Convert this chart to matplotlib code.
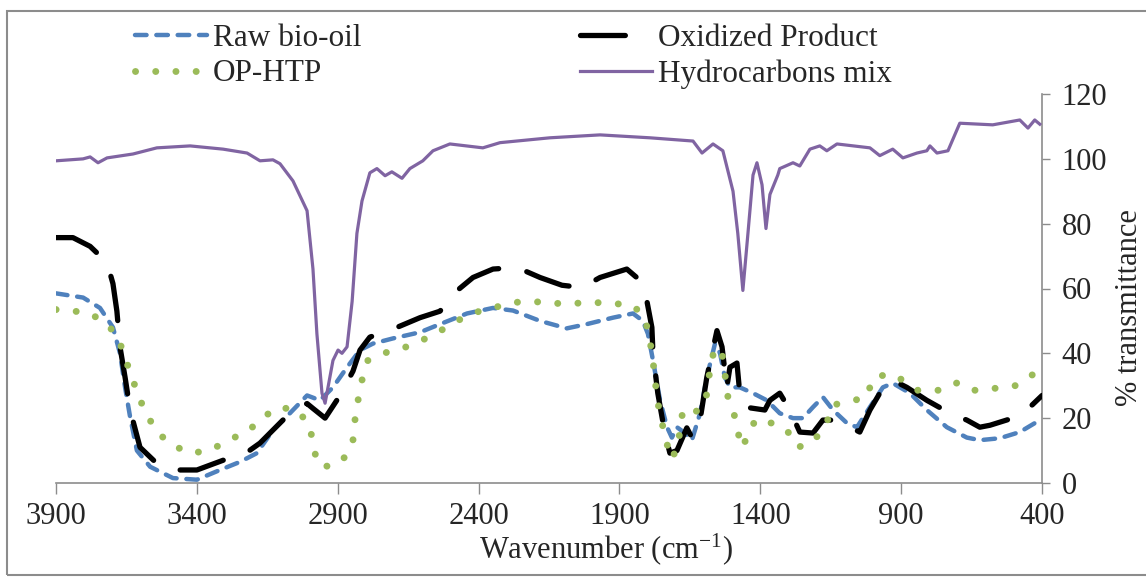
import matplotlib
matplotlib.use("Agg")
import matplotlib.pyplot as plt
from matplotlib.patches import Rectangle

plt.rcParams["font.family"] = ["Liberation Serif", "DejaVu Serif"]
plt.rcParams["mathtext.fontset"] = "custom"
plt.rcParams["mathtext.rm"] = "Liberation Serif"
plt.rcParams["mathtext.it"] = "Liberation Serif:italic"

# FTIR spectra, wavenumber (cm-1) vs % transmittance
raw_wn = [3900, 3804, 3744, 3698, 3673, 3655, 3637, 3613, 3566, 3485, 3400, 3318,
          3247, 3187, 3130, 3070, 3009, 2963, 2917, 2867, 2821, 2775, 2704, 2608,
          2537, 2441, 2349, 2278, 2182, 2087, 2016, 1923, 1852, 1817, 1799, 1781,
          1756, 1731, 1714, 1696, 1668, 1643, 1614, 1590, 1561, 1543, 1526, 1508,
          1473, 1426, 1377, 1331, 1284, 1249, 1213, 1178, 1142, 1093, 1057, 1011,
          965, 930, 869, 809, 738, 667, 621, 550, 479, 400]
raw_t = [58.5, 57.2, 54, 48, 40, 29.5, 20.3, 10, 5, 1.5, 1, 4,
         6.5, 9.2, 16.3, 21.5, 27, 25.5, 29.5, 35.7, 41, 43, 44.6, 46.5,
         49, 52.3, 54, 53.2, 50, 47.7, 49, 51, 52.3, 50, 46, 37.8,
         25.5, 17.2, 14, 17.2, 15.4, 13.2, 21.5, 32.6, 43, 40, 32.6, 29.5,
         29.5, 27.7, 25.5, 21.5, 20, 20, 23.4, 26.5, 22.5, 18.5, 17.2, 23.4,
         29.5, 30.8, 27.7, 22.5, 17.2, 14, 13.2, 13.8, 15.7, 19.8]

ox_wn = [3900, 3840, 3779, 3719, 3698, 3684, 3673, 3655, 3637, 3602, 3542, 3485,
         3400, 3307, 3236, 3176, 3105, 3059, 3009, 2988, 2945, 2892, 2846, 2821,
         2786, 2690, 2608, 2537, 2484, 2420, 2349, 2264, 2182, 2104, 2033, 1969,
         1874, 1820, 1803, 1785, 1781, 1764, 1739, 1721, 1696, 1661, 1643, 1614,
         1590, 1554, 1536, 1519, 1508, 1483, 1473, 1455, 1384, 1366, 1331, 1295,
         1284, 1260, 1213, 1178, 1142, 1082, 1047, 1011, 976, 930, 880, 809,
         727, 667, 621, 585, 504, 454, 400]
ox_t = [75.7, 75.7, 73, 68, 61.5, 53, 42, 32.6, 22.5, 11, 6, 4,
        4, 7, 8.6, 12.3, 18.5, 22.5, 24.5, 23, 20, 27, 34.5, 41,
        45, 48, 51, 53, 58.8, 63.4, 66, 66.5, 63.4, 61, 60.3, 63.4,
        66, 62, 56.3, 48, 40, 27.7, 15.4, 9.2, 10, 17, 14, 19.4,
        32.6, 47, 42, 29.5, 35.7, 37, 27.7, 23.4, 22.5, 25.5, 27.7, 22.5,
        20.3, 15.7, 15.4, 19.4, 19.4, 17.2, 15.7, 22.5, 27.7, 31.7, 29.5, 25.5,
        21.5, 19.4, 17.2, 17.8, 20, 22.5, 27]

htp_wn = [3900, 3850, 3779, 3719, 3680, 3655, 3630, 3609, 3577, 3542, 3488, 3424,
          3353, 3290, 3222, 3169, 3112, 3045, 2999, 2988, 2970, 2920, 2874, 2846,
          2839, 2828, 2814, 2793, 2739, 2672, 2615, 2544, 2477, 2413, 2349, 2278,
          2207, 2136, 2065, 1994, 1923, 1852, 1810, 1792, 1781, 1774, 1756, 1731,
          1728, 1696, 1675, 1639, 1604, 1586, 1579, 1561, 1536, 1526, 1515, 1480,
          1473, 1444, 1419, 1391, 1355, 1306, 1267, 1213, 1164, 1146, 1089, 1022,
          1001, 940, 894, 841, 805, 756, 699, 638, 567, 496, 436, 400]
htp_t = [53.5, 53.2, 52.3, 49, 45, 38.5, 32.6, 27, 21, 15.7, 11.7, 9.2,
         10, 13.2, 15.7, 20, 23.4, 22.5, 17.8, 11.7, 5.5, 5, 8, 13.2,
         19.4, 25.5, 31.7, 37.8, 40, 41.5, 43.4, 46.5, 50, 52.6, 54, 55.7,
         56, 55.4, 55.4, 55.7, 55.4, 54.8, 51, 44, 37.8, 31.7, 20.3, 13.2,
         7.7, 9.5, 22.5, 21.5, 23.4, 28.6, 35.7, 41.8, 40, 33.8, 26.5, 17.8,
         11, 13.8, 19.4, 18.5, 18.5, 16.3, 11, 12.6, 18.5, 24, 25, 26.5,
         32.3, 33.8, 31.7, 28.6, 28.6, 28.6, 31, 28.6, 29.2, 30, 33.2, 37.8]

hc_wn = [3900, 3804, 3779, 3751, 3719, 3627, 3542, 3424, 3307, 3222, 3176, 3130,
         3105, 3059, 3009, 2988, 2974, 2956, 2945, 2917, 2899, 2885, 2867, 2849,
         2832, 2814, 2786, 2761, 2732, 2708, 2672, 2644, 2598, 2562, 2502, 2385,
         2324, 2147, 1969, 1792, 1639, 1607, 1568, 1533, 1497, 1480, 1462, 1444,
         1426, 1412, 1394, 1380, 1366, 1338, 1331, 1284, 1260, 1224, 1189, 1164,
         1128, 1011, 976, 930, 894, 844, 809, 798, 773, 734, 692, 575,
         479, 450, 426, 408]
hc_t = [99.4, 100, 100.6, 98.8, 100.3, 101.5, 103.4, 104, 103, 101.8, 99.4, 99.7,
        98.5, 93.2, 84, 66, 46, 27.7, 24.6, 37.8, 41, 40, 42, 56,
        77, 87, 95.7, 97, 94.8, 96, 94, 97, 99.4, 102.5, 104.6, 103.4,
        105, 106.5, 107.4, 106.5, 105.5, 101.8, 104.6, 102.5, 90, 77, 59.4, 77,
        95, 98.8, 92, 78.5, 89, 95, 97, 98.8, 97.8, 103, 104, 102.5,
        104.6, 103.4, 101, 103, 100.3, 101.8, 102.5, 104, 101.8, 102.5, 111, 110.5,
        112, 109.5, 112, 110.7]

fig = plt.figure(figsize=(11.46, 5.77), dpi=100)
ax = fig.add_axes([0.0489, 0.163, 0.8604, 0.674])

ax.plot(raw_wn, raw_t, color="#4F81BD", lw=3.2, dashes=(2.6, 2.2),
        dash_capstyle="round", label="Raw bio-oil", zorder=2)
ax.plot(ox_wn, ox_t, color="black", lw=3.8, dashes=(8.5, 5.5),
        dash_capstyle="round", label="Oxidized Product", zorder=3)
ax.plot(htp_wn, htp_t, color="#9BBB59", lw=5, dashes=(0.01, 2.9),
        dash_capstyle="round", label="OP-HTP", zorder=4)
ax.plot(hc_wn, hc_t, color="#8064A2", lw=2.3, label="Hydrocarbons mix", zorder=5)

ax.set_xlim(3900, 400)
ax.set_ylim(0, 120)
ax.set_xticks(range(3900, 399, -500))
ax.set_yticks(range(0, 121, 20))

ax.spines["left"].set_visible(False)
ax.spines["top"].set_visible(False)
for side in ("bottom", "right"):
    ax.spines[side].set_color("#8c8c8c")
    ax.spines[side].set_linewidth(1.2)

ax.yaxis.tick_right()
ax.yaxis.set_label_position("right")
ax.tick_params(axis="x", direction="out", length=8, width=1, color="#8c8c8c",
               labelsize=22, pad=6, labelcolor="#262626")
ax.tick_params(axis="y", direction="out", length=6, width=1, color="#8c8c8c",
               labelsize=22, pad=8, labelcolor="#262626")

ax.set_xlabel("Wavenumber (cm$^{-1}$)", fontsize=22, color="#262626")
ax.xaxis.set_label_coords(0.558, -0.125)
ax.set_ylabel("% transmittance", fontsize=22, color="#262626")
ax.yaxis.set_label_coords(1.074, 0.45)

h, l = ax.get_legend_handles_labels()
order = [0, 2, 1, 3]
fig.legend([h[i] for i in order], [l[i] for i in order], loc="upper left",
           bbox_to_anchor=(0.1178, 0.958), ncol=2, frameon=False, fontsize=22.5,
           handlelength=2.3, handletextpad=0.2, columnspacing=7.0,
           labelspacing=0.2, borderpad=0, borderaxespad=0, labelcolor="#262626")

# outer frame around the figure (right side runs past the edge)
fig.patches.append(Rectangle((7 / 1146, 2 / 577), 1160 / 1146, 564 / 577,
                             transform=fig.transFigure, fill=False,
                             edgecolor="#8c8c8c", lw=1.5))

fig.savefig("out.png", dpi=100)
